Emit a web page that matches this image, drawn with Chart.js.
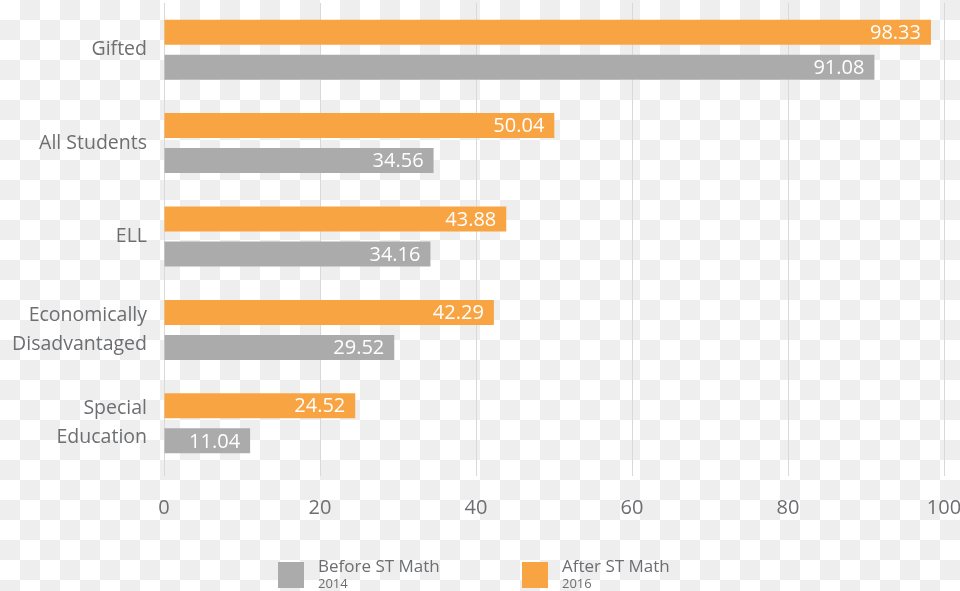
<!DOCTYPE html>
<html>
<head>
<meta charset="utf-8">
<script src="https://cdn.jsdelivr.net/npm/chart.js@4"></script>
<style>
  html, body {
    margin: 0;
    padding: 0;
    width: 960px;
    height: 591px;
    overflow: hidden;
    background-color: #fff;
    background-image: conic-gradient(#eeeeee 0 25%, #ffffff 0 50%, #eeeeee 0 75%, #ffffff 0);
    background-size: 40px 40px;
    font-family: "Open Sans", sans-serif;
  }
  #wrap { position: relative; width: 960px; height: 591px; }
  canvas { position: absolute; top: 0; left: 0; }
  #legend { position: absolute; top: 557px; left: 0; width: 960px; height: 34px; }
  .item { position: absolute; top: 0; }
  .box { position: absolute; top: 5px; left: 0; width: 26px; height: 26px; }
  .txt { position: absolute; left: 40px; top: -1px; white-space: nowrap; color: #6d6e71; font-weight: 500; }
  .txt .main { font-size: 17px; line-height: 19px; display: block; }
  .txt .sub { font-size: 13px; line-height: 14px; display: block; margin-top: 1px; }
</style>
</head>
<body>
<div id="wrap">
  <canvas id="chart1" width="960" height="591"></canvas>
  <div id="legend"></div>
</div>
<script>
const categories = ['Gifted', 'All Students', 'ELL', ['Economically', 'Disadvantaged'], ['Special', 'Education']];
const afterValues = [98.33, 50.04, 43.88, 42.29, 24.52];
const beforeValues = [91.08, 34.56, 34.16, 29.52, 11.04];
const xTicks = [0, 20, 40, 60, 80, 100];
const legendItems = [
    { label: 'Before ST Math', year: '2014', color: '#ababab', left: 278 },
    { label: 'After ST Math', year: '2016', color: '#f9a443', left: 522 }
];

const textGray = '#6d6e71';
const fontFamily = '"Open Sans", sans-serif';

// white value labels at the end of each bar
const barLabels = {
    id: 'barLabels',
    afterDatasetsDraw(chart) {
        const ctx = chart.ctx;
        ctx.save();
        ctx.fillStyle = '#ffffff';
        ctx.font = '500 20px ' + fontFamily;
        ctx.textAlign = 'right';
        ctx.textBaseline = 'middle';
        chart.data.datasets.forEach((ds, i) => {
            chart.getDatasetMeta(i).data.forEach((bar, j) => {
                ctx.fillText(ds.data[j].toFixed(2), bar.x - 10, bar.y + 1);
            });
        });
        ctx.restore();
    }
};

function createBarChart(chartId) {
    const ctx = document.getElementById(chartId).getContext('2d');
    new Chart(ctx, {
        type: 'bar',
        data: {
            labels: categories,
            datasets: [
                {
                    label: 'After ST Math',
                    data: afterValues,
                    backgroundColor: '#f9a443',
                    borderWidth: 0,
                    categoryPercentage: 0.75,
                    barPercentage: 0.714
                },
                {
                    label: 'Before ST Math',
                    data: beforeValues,
                    backgroundColor: '#ababab',
                    borderWidth: 0,
                    categoryPercentage: 0.75,
                    barPercentage: 0.714
                }
            ]
        },
        options: {
            indexAxis: 'y',
            responsive: false,
            animation: false,
            layout: {
                padding: { top: 3, right: 16, bottom: 70, left: 0 }
            },
            plugins: {
                legend: { display: false },
                tooltip: { enabled: false }
            },
            scales: {
                x: {
                    min: 0,
                    max: 100,
                    afterBuildTicks: scale => {
                        scale.ticks = xTicks.map(v => ({ value: v }));
                    },
                    afterFit: scale => {
                        scale.height = 51;
                        scale.paddingLeft = 0;
                        scale.paddingRight = 0;
                    },
                    grid: {
                        color: '#d9d9d9',
                        lineWidth: 1,
                        tickLength: 6,
                        drawTicks: true
                    },
                    border: { display: false },
                    ticks: {
                        color: textGray,
                        padding: 20,
                        font: { family: fontFamily, size: 20, weight: '500' }
                    }
                },
                y: {
                    afterFit: scale => {
                        scale.width = 164;
                        scale.paddingTop = 0;
                        scale.paddingBottom = 0;
                    },
                    grid: { display: false, drawTicks: false },
                    border: { display: false },
                    ticks: {
                        color: textGray,
                        padding: 17,
                        font: { family: fontFamily, size: 19.5, weight: '500', lineHeight: 1.5 }
                    }
                }
            }
        },
        plugins: [barLabels]
    });
}

function buildLegend() {
    const el = document.getElementById('legend');
    legendItems.forEach(item => {
        const div = document.createElement('div');
        div.className = 'item';
        div.style.left = item.left + 'px';
        div.innerHTML = '<div class="box" style="background:' + item.color + '"></div>' +
            '<div class="txt"><span class="main">' + item.label + '</span><span class="sub">' + item.year + '</span></div>';
        el.appendChild(div);
    });
}

createBarChart('chart1');
buildLegend();
</script>
</body>
</html>
